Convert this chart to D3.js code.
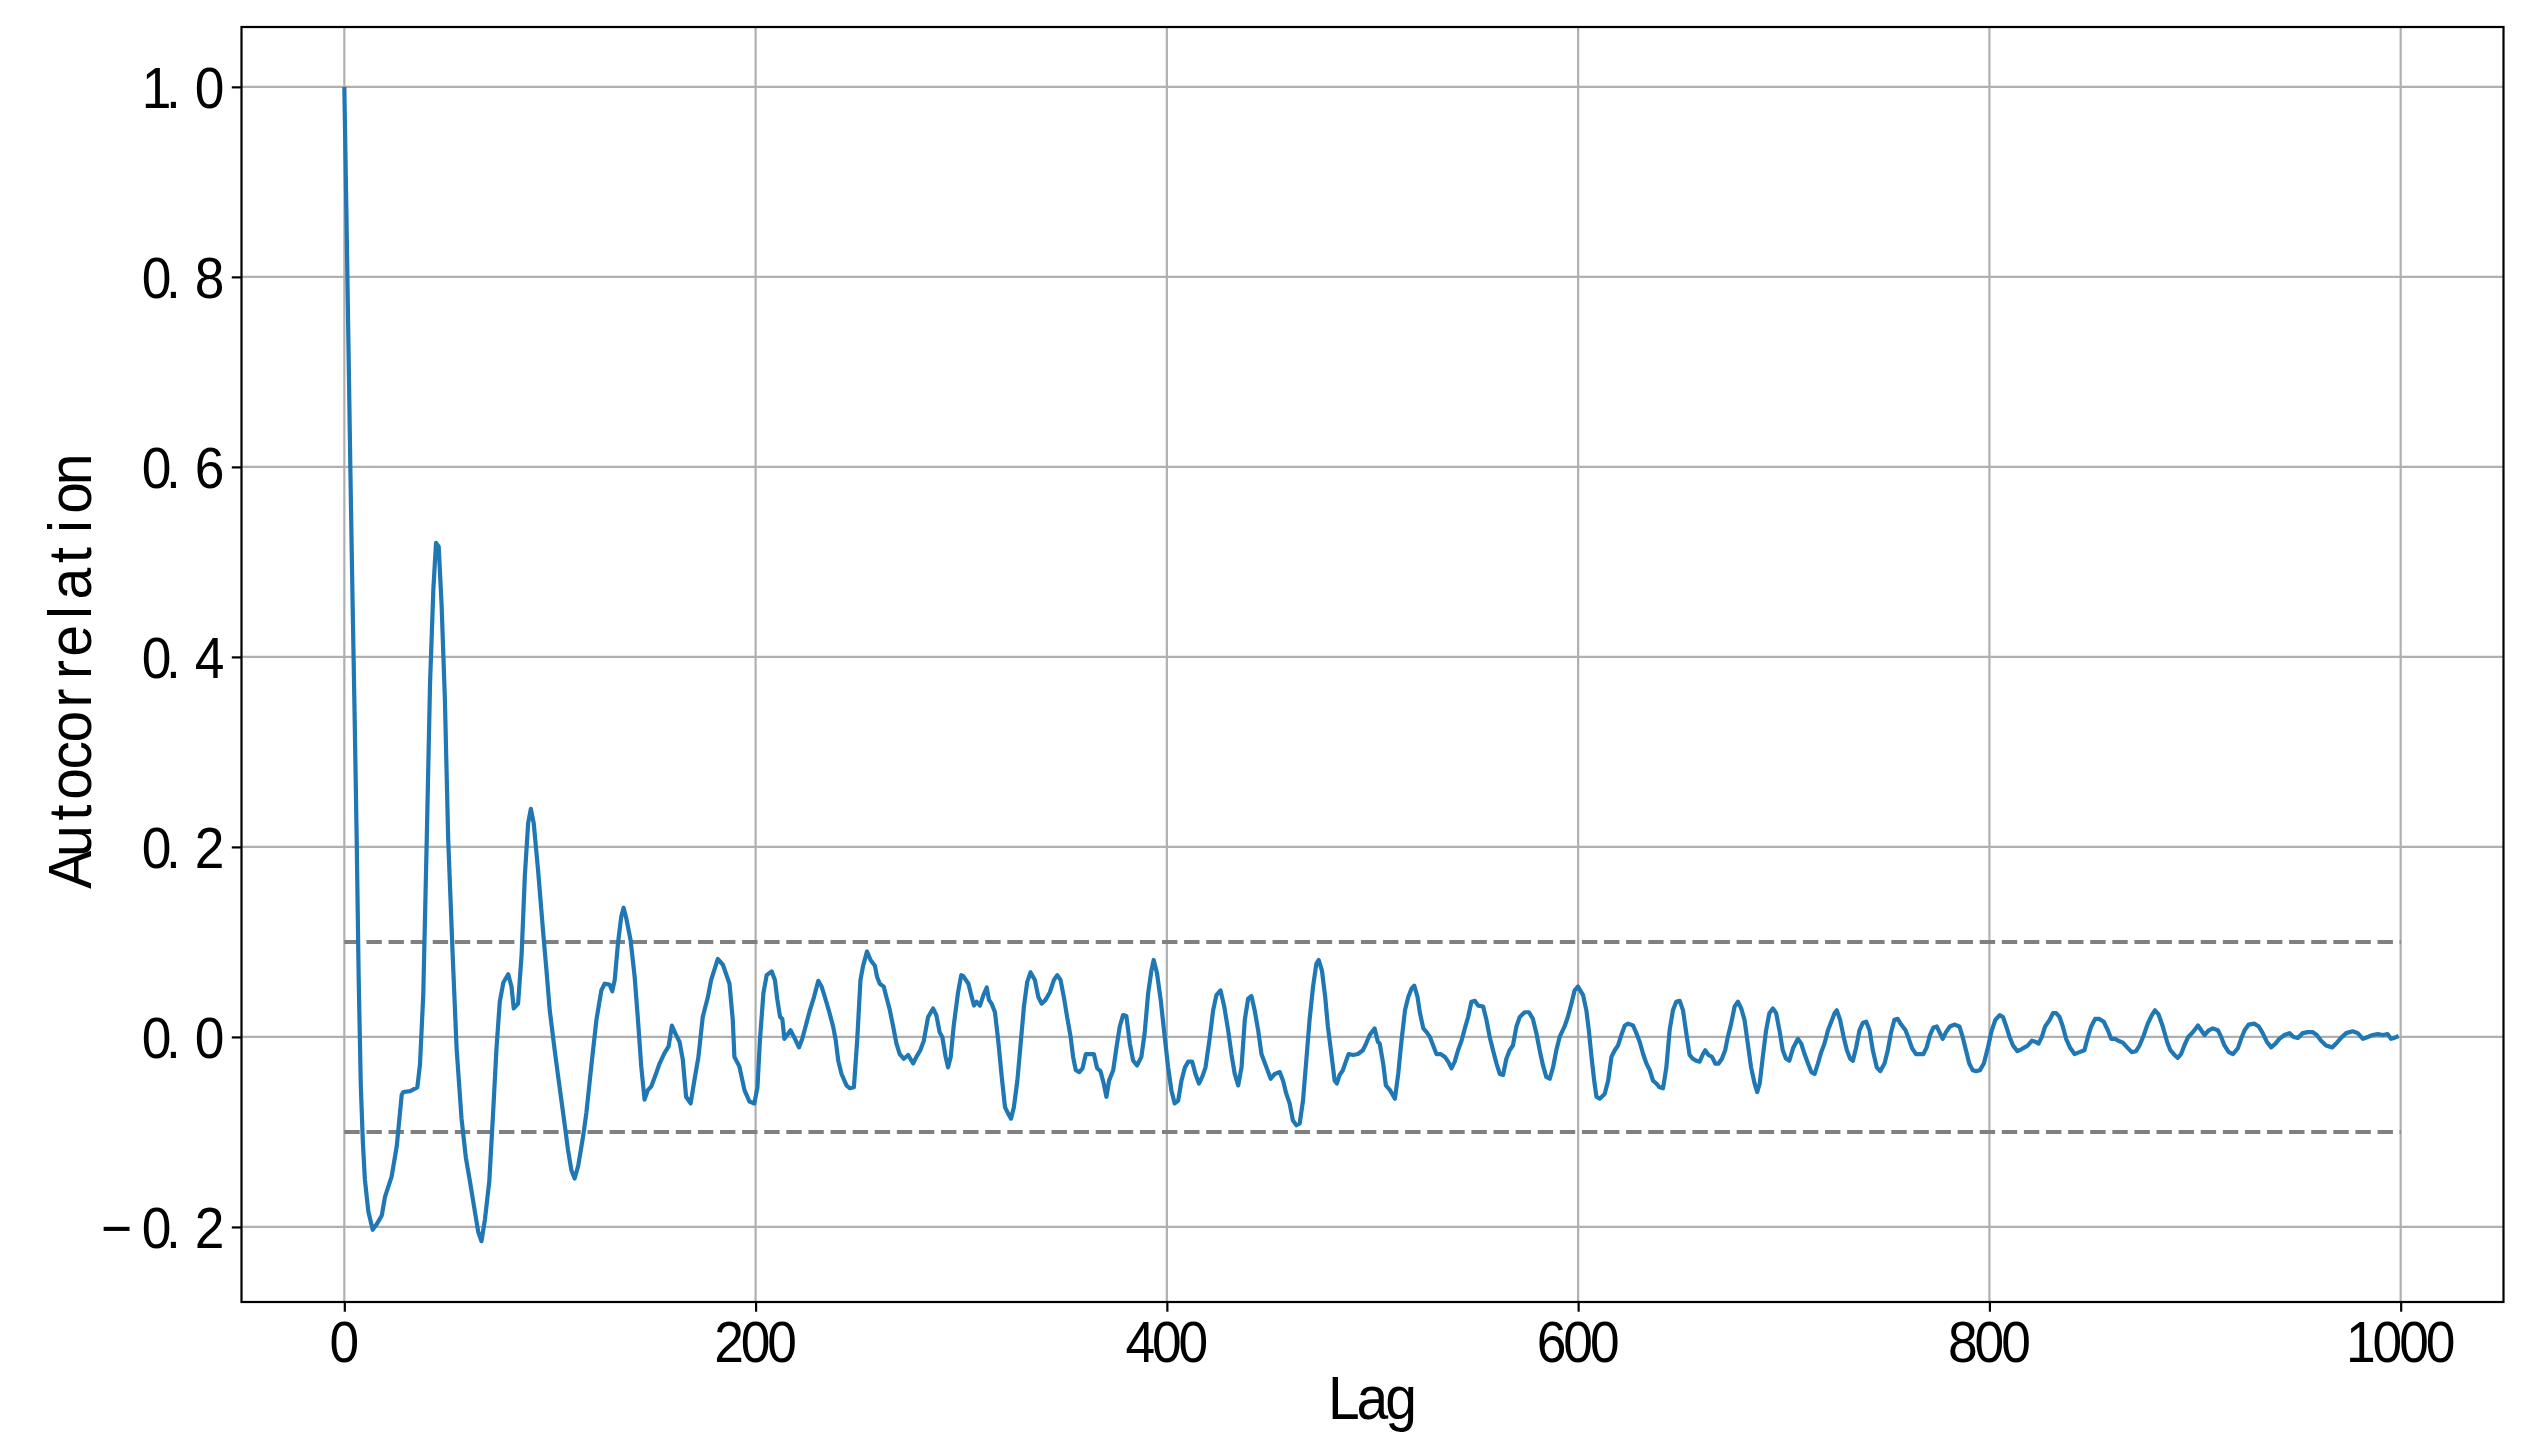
<!DOCTYPE html>
<html><head><meta charset="utf-8">
<script src="https://cdn.jsdelivr.net/npm/d3@7"></script>
<style>html,body{margin:0;padding:0;background:#fff;} svg{display:block}</style>
</head><body><svg id="c" width="2534" height="1451"></svg>
<script>
const lags = [0,1,2,3,4,5,6,7,8,9,10,11.7,13.8,15.8,18.2,19.8,23,25.5,27.9,28.7,32,35.5,36.8,38.4,40.1,41.7,43.3,44.6,45.9,47.3,48.9,50.5,52.7,54.6,57,59.1,61.1,63.5,65.1,66.7,68.4,70.5,72.4,74,75.6,77.3,79.7,81.3,82.4,84.5,86.2,87.8,89.4,90.7,92.1,94.2,96.7,98.3,99.9,102.3,104,106.4,108.8,110.4,112,113.7,116.1,117.7,120.1,122.6,125,126.6,129,130.3,131.5,133.1,134.7,135.8,137.1,139.2,141.2,142.8,144.4,146,147.6,149.3,151.7,153.3,155.7,157.7,159.3,160.9,163,164.6,166.2,168.4,170.3,172.2,174.3,176.8,178.4,181.6,184.1,187.3,188.9,189.7,192.1,194.6,197,199.4,
200.9,202.1,203.8,205.4,207.8,209.4,210.6,211.9,213,214,215.4,217,218.7,221.1,222.7,224.3,226.4,228.4,230.5,232.1,233.7,235.6,237.7,239,240.2,241.8,244.2,245.8,247.8,249.4,251,252.3,254.2,255.9,258,259.1,260.4,262.3,263.6,265.3,266.9,268.5,270.1,272.1,274.2,276.6,278.2,280.1,281.8,283.9,286.3,287.9,289.5,290.8,292.4,293.6,294.9,296.3,298.4,300,
301,303.5,305.1,306.2,307.5,309.1,310.8,312.4,313.5,314.8,316.4,318,319.7,321.3,322.9,324.2,325.6,327.3,328.9,330.5,332.1,333.7,335.8,337.5,339.1,341,343.1,345.1,346.7,348.3,349.9,351.5,353.2,354.4,355.7,357.4,359,360.6,362.5,364.5,366.1,367.7,369.3,370.6,371.9,373.9,375.5,377.1,378.7,380.3,382,383.6,385.5,387.6,389.2,390.9,392.5,393.6,395.2,397,398.4,400.6,402.2,403.8,
405.5,407.1,408.8,410.4,412.3,413.9,415.6,417.2,418.8,420.9,422.5,424.1,426.1,427.9,429.8,431.4,433,434.7,436.3,437.9,439.5,441.1,442.7,444.4,446,448.4,450.5,452.5,454.9,456.5,458.1,459.7,461.3,463,464.6,466.2,467.8,469.4,471.1,472.7,473.8,475.4,477,478.3,480,481.6,482.7,484,485.6,487.2,488.4,490.5,492.9,495.3,496.9,498.6,501,502.6,
503.5,505.2,506.5,508.5,510.9,512.5,514.1,515.8,517.4,519,520.3,521.9,523,524.7,526.3,527.9,529.5,531.1,533.1,535.2,536.8,538.4,540,541.6,543.3,544.9,546.5,548.1,549.8,551.4,553.8,555.4,557,558.6,560.3,561.9,563.5,565.1,566.7,568.3,570,571.6,574,576.1,578,579.7,581.3,582.9,584.5,586.2,587.8,589.4,591,593.4,595,596.7,598.3,599.9,
602.4,604,605.2,606.5,607.8,608.9,610.5,612.9,614.6,616.2,617.8,619.4,621,622.7,624.3,626.7,628.3,629.9,631.6,633.2,634.8,636.4,638,639.6,641.3,642.9,644.5,646.1,647.7,649.4,651,652.6,654.2,655.8,657.4,659.1,660.7,661.8,663.4,665.1,666.7,668.3,669.9,671.5,672.8,674.4,676.1,677.7,679.3,680.9,682.5,684.1,685.8,687.1,688.3,689.8,691.4,693,694.7,696.3,697.9,699.5,701.1,702.7,
704.5,706.9,708.5,710.1,711.8,713.4,715,716.6,718.2,719.8,721.5,723.1,724.7,725.8,727.4,729.1,730.7,732.3,733.6,735.2,736.8,738.5,740.1,741.7,743.3,745.2,746.9,749,750.6,752.2,753.8,755.4,757.1,759.2,760.8,762.4,764.3,766,767.9,769.5,771.1,772.8,774.4,775.7,777.3,778.9,780.8,782.9,785.4,787,788.6,790.2,791.9,793.5,795.4,797.3,
799.3,801,802.9,805,806.6,808.2,809.8,811.5,813.6,815.5,817.1,818.7,820.7,822.3,823.9,825.5,827.1,829.3,830.9,832.5,834.1,835.7,837.3,839.4,841.4,843.8,846.2,847.9,849.5,851.4,853.5,855.6,857.6,859.2,861.1,862.7,864.9,867,869.2,871.3,873,875.1,877,879,880.5,882.2,884.3,886.4,888,890,891.6,893.2,894.8,896.7,
898.9,901.4,903,904.6,906.7,908.6,911.1,912.7,914.3,916.4,918.4,920.8,922.4,924.1,926.1,928.9,931,932.9,934.9,937,939.1,941,943.5,945.9,947.9,950,952.4,954.8,957.3,959.2,961.3,963.7,966.7,968.6,971,973.5,976.7,979.1,981.6,984,986.4,988.9,991.3,993.7,995.3,996.9,999];
const acf = [1.0,0.87,0.73,0.59,0.46,0.34,0.21,0.06,-0.05,-0.11,-0.15,-0.184,-0.203,-0.197,-0.188,-0.168,-0.147,-0.115,-0.061,-0.058,-0.057,-0.053,-0.029,0.045,0.209,0.373,0.471,0.52,0.516,0.455,0.356,0.209,0.086,-0.012,-0.086,-0.127,-0.152,-0.184,-0.205,-0.215,-0.192,-0.152,-0.078,-0.012,0.037,0.057,0.066,0.053,0.03,0.035,0.086,0.17,0.225,0.24,0.225,0.176,0.11,0.07,0.028,-0.014,-0.042,-0.08,-0.119,-0.14,-0.149,-0.136,-0.105,-0.08,-0.031,0.018,0.049,0.056,0.055,0.048,0.06,0.099,0.127,0.136,0.125,0.102,0.063,0.018,-0.031,-0.066,-0.056,-0.052,-0.038,-0.028,-0.017,-0.01,0.012,0.004,-0.005,-0.024,-0.063,-0.07,-0.045,-0.021,0.021,0.042,0.06,0.082,0.076,0.056,0.018,-0.021,-0.031,-0.056,-0.068,-0.07,
-0.053,-0.004,0.046,0.065,0.069,0.06,0.039,0.021,0.019,-0.002,0.002,0.007,0,-0.011,-0.002,0.011,0.028,0.042,0.059,0.053,0.042,0.028,0.011,-0.004,-0.025,-0.039,-0.051,-0.054,-0.053,-0.004,0.06,0.075,0.09,0.081,0.075,0.063,0.056,0.053,0.042,0.028,0.011,-0.007,-0.018,-0.023,-0.019,-0.028,-0.021,-0.014,-0.004,0.021,0.03,0.023,0.005,0,-0.021,-0.032,-0.021,0.011,0.046,0.065,
0.064,0.056,0.042,0.033,0.037,0.033,0.044,0.052,0.039,0.035,0.026,-0.004,-0.042,-0.074,-0.081,-0.086,-0.074,-0.046,-0.007,0.032,0.058,0.068,0.06,0.042,0.035,0.039,0.047,0.06,0.065,0.06,0.042,0.021,0,-0.021,-0.035,-0.037,-0.033,-0.018,-0.018,-0.018,-0.033,-0.036,-0.049,-0.063,-0.046,-0.035,-0.011,0.011,0.023,0.022,-0.007,-0.025,-0.03,-0.021,0.004,0.046,0.07,0.081,0.067,0.039,0.011,-0.032,-0.056,-0.07,
-0.067,-0.046,-0.032,-0.026,-0.026,-0.039,-0.049,-0.042,-0.032,0,0.028,0.044,0.049,0.032,0.007,-0.018,-0.039,-0.051,-0.032,0.018,0.04,0.043,0.028,0.007,-0.018,-0.032,-0.044,-0.039,-0.037,-0.046,-0.06,-0.07,-0.088,-0.093,-0.091,-0.067,-0.025,0.018,0.053,0.077,0.081,0.07,0.042,0.011,-0.018,-0.046,-0.049,-0.04,-0.035,-0.025,-0.018,-0.019,-0.018,-0.014,-0.007,0.002,0.009,-0.005,
-0.007,-0.028,-0.051,-0.056,-0.065,-0.039,-0.004,0.028,0.042,0.051,0.054,0.042,0.026,0.009,0.005,0,-0.009,-0.018,-0.018,-0.021,-0.026,-0.033,-0.026,-0.014,-0.004,0.009,0.021,0.037,0.038,0.033,0.032,0.018,0,-0.014,-0.028,-0.039,-0.04,-0.023,-0.014,-0.009,0.011,0.021,0.026,0.026,0.019,0.004,-0.014,-0.03,-0.042,-0.044,-0.032,-0.014,0,0.011,0.021,0.035,0.049,0.053,
0.044,0.028,0.007,-0.021,-0.046,-0.063,-0.065,-0.06,-0.046,-0.021,-0.014,-0.009,0.002,0.012,0.014,0.012,0.004,-0.005,-0.018,-0.028,-0.035,-0.046,-0.049,-0.053,-0.054,-0.032,0.007,0.028,0.037,0.038,0.028,0.004,-0.019,-0.023,-0.025,-0.026,-0.018,-0.014,-0.019,-0.021,-0.028,-0.028,-0.023,-0.014,0,0.014,0.032,0.037,0.03,0.018,-0.007,-0.032,-0.049,-0.058,-0.049,-0.021,0.007,0.025,0.03,0.025,0.007,-0.014,-0.023,-0.025,
-0.012,-0.002,-0.007,-0.018,-0.028,-0.037,-0.039,-0.028,-0.016,-0.007,0.007,0.016,0.025,0.028,0.018,0,-0.014,-0.023,-0.025,-0.011,0.007,0.015,0.016,0.007,-0.014,-0.032,-0.036,-0.028,-0.014,0.005,0.018,0.019,0.013,0.007,-0.002,-0.012,-0.018,-0.018,-0.018,-0.011,0.002,0.01,0.011,0.005,-0.002,0.005,0.011,0.013,0.011,0,-0.014,-0.028,-0.035,-0.036,-0.035,-0.028,
-0.011,0.006,0.018,0.023,0.021,0.011,0,-0.009,-0.015,-0.013,-0.011,-0.009,-0.004,-0.005,-0.007,0,0.011,0.018,0.025,0.025,0.021,0.011,-0.002,-0.012,-0.018,-0.016,-0.014,0,0.011,0.019,0.019,0.016,0.007,-0.002,-0.002,-0.004,-0.006,-0.011,-0.016,-0.015,-0.009,0.002,0.014,0.023,0.028,0.024,0.011,-0.005,-0.014,-0.019,-0.022,-0.018,-0.009,0,
0.005,0.012,0.007,0.002,0.007,0.009,0.007,0,-0.009,-0.016,-0.018,-0.012,-0.002,0.007,0.013,0.014,0.011,0.004,-0.005,-0.011,-0.007,-0.002,0.002,0.004,0,-0.001,0.004,0.005,0.005,0.002,-0.004,-0.009,-0.011,-0.007,-0.001,0.004,0.006,0.004,-0.002,0,0.002,0.003,0.002,0.003,-0.002,-0.001,0.001];
const xTicks = [0,200,400,600,800,1000];
const xTickLabels = ["0","200","400","600","800","1000"];
const yTicks = [-0.2,0,0.2,0.4,0.6,0.8,1.0];
const yTickLabels = ["\u22120.2","0.0","0.2","0.4","0.6","0.8","1.0"];
const bandLevels = [0.1,-0.1];
const bandSpan = [0,1000];
const xLabel = "Lag", yLabel = "Autocorrelation";

const svg = d3.select("#c");
const L=241.5, R=2503.5, T=27, B=1302;
const x = d3.scaleLinear().domain([-50,1050]).range([L,R]);
const y = d3.scaleLinear().domain([-0.279,1.063]).range([B,T]);
const FONT = "'Liberation Sans', Arial, sans-serif";
const TICKFS = 58, CELL = 26.6, LABFS = 62, LCELL = 28.6, SX = 0.92;

// one text element; glyphs placed in fixed half-width cells (SimHei-like) via an x list
function cellText(parent, str, px, py, anchor, fs, cell, sx){
  const chars = Array.from(str);
  const w = chars.map(c => c === "\u2212" ? 2 : 1);
  const total = d3.sum(w) * cell;
  const start = anchor === "end" ? px - total : anchor === "middle" ? px - total/2 : px;
  let pos = 0;
  const xs = chars.map((c,i) => {
    const cw = w[i]*cell;
    const cx = c === "." ? pos + 3.5 : pos + cw/2;
    pos += cw;
    return (cx/sx).toFixed(2);
  });
  return parent.append("text")
    .attr("transform", `translate(${start},${py}) scale(${sx},1)`)
    .attr("font-family", FONT).attr("font-size", fs).attr("fill", "#000")
    .attr("text-anchor", "middle")
    .attr("x", xs.join(" ")).attr("y", 0)
    .text(str);
}

// grid
const g = svg.append("g");
g.selectAll("line.vx").data(xTicks).join("line")
  .attr("x1",d=>x(d)).attr("x2",d=>x(d)).attr("y1",T).attr("y2",B)
  .attr("stroke","#b0b0b0").attr("stroke-width",2.2);
g.selectAll("line.hy").data(yTicks).join("line")
  .attr("x1",L).attr("x2",R).attr("y1",d=>y(d)).attr("y2",d=>y(d))
  .attr("stroke","#b0b0b0").attr("stroke-width",2.2);

// dashed bands
bandLevels.forEach(v=>{
  svg.append("path").datum(bandSpan.map(l=>[l,v]))
    .attr("d", d3.line().x(d=>x(d[0])).y(d=>y(d[1])))
    .attr("fill","none").attr("stroke","#808080").attr("stroke-width",4)
    .attr("stroke-dasharray","15.4,6.7");
});

// series
const pts = lags.map((l,i)=>[l,acf[i]]);
svg.append("path").datum(pts)
  .attr("d", d3.line().x(d=>x(d[0])).y(d=>y(d[1])))
  .attr("fill","none").attr("stroke","#1f77b4").attr("stroke-width",4.2)
  .attr("stroke-linejoin","round").attr("stroke-linecap","butt");

// axes ticks via d3 axis
const xa = svg.append("g").attr("transform",`translate(0,${B})`)
  .call(d3.axisBottom(x).tickValues(xTicks).tickSize(9.7).tickFormat(""));
const ya = svg.append("g").attr("transform",`translate(${L},0)`)
  .call(d3.axisLeft(y).tickValues(yTicks).tickSize(9.7).tickFormat(""));
[xa,ya].forEach(a=>{ a.select(".domain").remove(); a.selectAll(".tick line").attr("stroke","#000").attr("stroke-width",2.2); });

// tick labels
const tl = svg.append("g");
xTicks.forEach((d,i)=>cellText(tl, xTickLabels[i], x(d), 1362.3, "middle", TICKFS, CELL, SX));
yTicks.forEach((d,i)=>cellText(tl, yTickLabels[i], 223, y(d)+20.8, "end", TICKFS, CELL, SX));

// spines
svg.append("rect").attr("x",L).attr("y",T).attr("width",R-L).attr("height",B-T)
  .attr("fill","none").attr("stroke","#000").attr("stroke-width",2.2);

// axis labels
cellText(svg, xLabel, (L+R)/2, 1419, "middle", LABFS, LCELL, SX);
const yl = svg.append("g").attr("transform",`translate(91,${(T+B)/2+5}) rotate(-90)`);
cellText(yl, yLabel, 0, 0, "middle", LABFS, LCELL, SX);
</script></body></html>
